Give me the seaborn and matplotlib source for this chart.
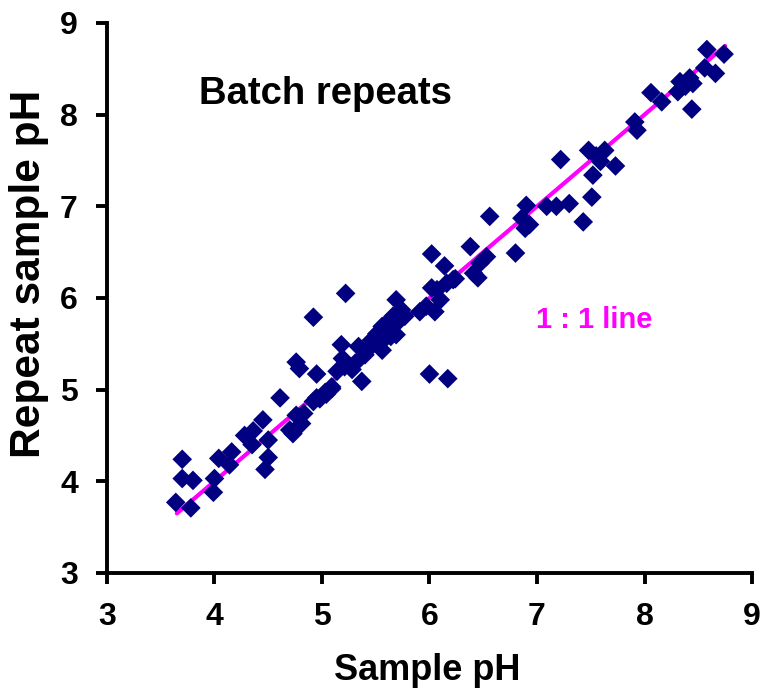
import numpy as np
import pandas as pd
import seaborn as sns
from matplotlib import pyplot as plt

# values
sample_ph = [3.64, 3.78, 3.70, 3.70, 3.80, 3.99, 4.00, 4.04, 4.14, 4.16,
             4.28, 4.36, 4.35, 4.45, 4.50, 4.50, 4.47, 4.61, 4.70, 4.73,
             4.76, 4.81, 4.83, 4.76, 4.79, 4.92, 4.92, 4.95, 4.95, 4.98,
             5.03, 5.09, 5.04, 5.09, 5.14, 5.18, 5.19, 5.21, 5.22, 5.31,
             5.34, 5.37, 5.40, 5.42, 5.46, 5.51, 5.56, 5.57, 5.56, 5.63,
             5.69, 5.66, 5.69, 5.74, 5.77, 5.91, 5.97, 6.00, 6.17, 6.02,
             6.02, 6.07, 6.05, 6.10, 6.14, 6.16, 6.22, 6.24, 6.38, 6.41,
             6.45, 6.47, 6.53, 6.56, 6.80, 6.86, 6.90, 6.93, 6.89, 7.09,
             7.18, 7.30, 7.22, 7.43, 7.51, 7.52, 7.48, 7.59, 7.63, 7.73,
             7.55, 7.91, 7.93, 8.06, 8.16, 8.31, 8.33, 8.38, 8.42, 8.45,
             8.44, 8.56, 8.58, 8.66, 8.74, 5.60, 5.64, 5.70, 5.52, 5.28]
repeat_ph = [3.77, 3.71, 4.24, 4.03, 4.01, 3.88, 4.03, 4.25, 4.18, 4.32,
             4.50, 4.55, 4.40, 4.67, 4.45, 4.26, 4.13, 4.91, 4.56, 4.52,
             4.72, 4.63, 4.74, 5.30, 5.23, 5.79, 4.87, 5.17, 4.91, 4.90,
             4.97, 5.01, 4.95, 5.03, 5.20, 5.49, 5.34, 5.25, 6.05, 5.29,
             5.47, 5.09, 5.38, 5.43, 5.54, 5.61, 5.69, 5.54, 5.43, 5.65,
             5.60, 5.80, 5.98, 5.87, 5.80, 5.85, 5.91, 5.17, 5.12, 6.48,
             6.11, 6.09, 5.85, 5.98, 6.35, 6.16, 6.20, 6.21, 6.56, 6.27,
             6.22, 6.38, 6.45, 6.89, 6.49, 6.87, 7.01, 6.80, 6.76, 7.00,
             7.00, 7.03, 7.51, 6.83, 7.10, 7.34, 7.61, 7.49, 7.61, 7.44,
             7.55, 7.92, 7.83, 8.24, 8.14, 8.25, 8.36, 8.31, 8.40, 8.34,
             8.06, 8.51, 8.71, 8.45, 8.66, 5.72, 5.58, 5.73, 5.49, 5.22]
line_ends = [3.65, 8.75]
ticks = [3, 4, 5, 6, 7, 8, 9]
tick_labels = ['3', '4', '5', '6', '7', '8', '9']

df = pd.DataFrame({'sample': sample_ph, 'repeat': repeat_ph})

sns.set_style('white')
plt.rcParams['font.family'] = ['Liberation Sans', 'DejaVu Sans']
plt.rcParams['font.weight'] = 'bold'
plt.rcParams['text.color'] = 'black'
plt.rcParams['axes.labelcolor'] = 'black'
plt.rcParams['xtick.color'] = 'black'
plt.rcParams['ytick.color'] = 'black'

fig = plt.figure(figsize=(7.63, 6.88), dpi=100)
ax = fig.add_axes([0.1402, 0.1672, 0.8454, 0.7994])

ax.plot(line_ends, line_ends, color='#FF00FF', lw=3, zorder=1)
sns.scatterplot(data=df, x='sample', y='repeat', marker='D', s=100,
                color='#000080', edgecolor='none', ax=ax, zorder=2)

ax.set_xlim(3, 9)
ax.set_ylim(3, 9)
ax.set_xticks(ticks, labels=tick_labels, fontsize=23, fontweight='bold')
ax.set_yticks(ticks, labels=tick_labels, fontsize=23, fontweight='bold')
ax.tick_params(direction='out', length=8, width=2.8, bottom=True, left=True)
ax.tick_params(axis='x', pad=13)
ax.tick_params(axis='y', pad=13)

for side in ['top', 'right']:
    ax.spines[side].set_visible(False)
for side in ['left', 'bottom']:
    ax.spines[side].set_linewidth(2.8)
    ax.spines[side].set_color('black')

ax.set_xlabel('Sample pH', fontsize=26, fontweight='bold')
ax.xaxis.set_label_coords(0.497, -0.145)
ax.set_ylabel('Repeat sample pH', fontsize=30.5, fontweight='bold')
ax.yaxis.set_label_coords(-0.090, 0.544)

ax.text(3.86, 8.12, 'Batch repeats', fontsize=27.5, fontweight='bold')
ax.text(6.99, 5.67, '1 : 1 line', fontsize=21, fontweight='bold', color='#FF00FF')

fig.savefig('out.png', dpi=100)
